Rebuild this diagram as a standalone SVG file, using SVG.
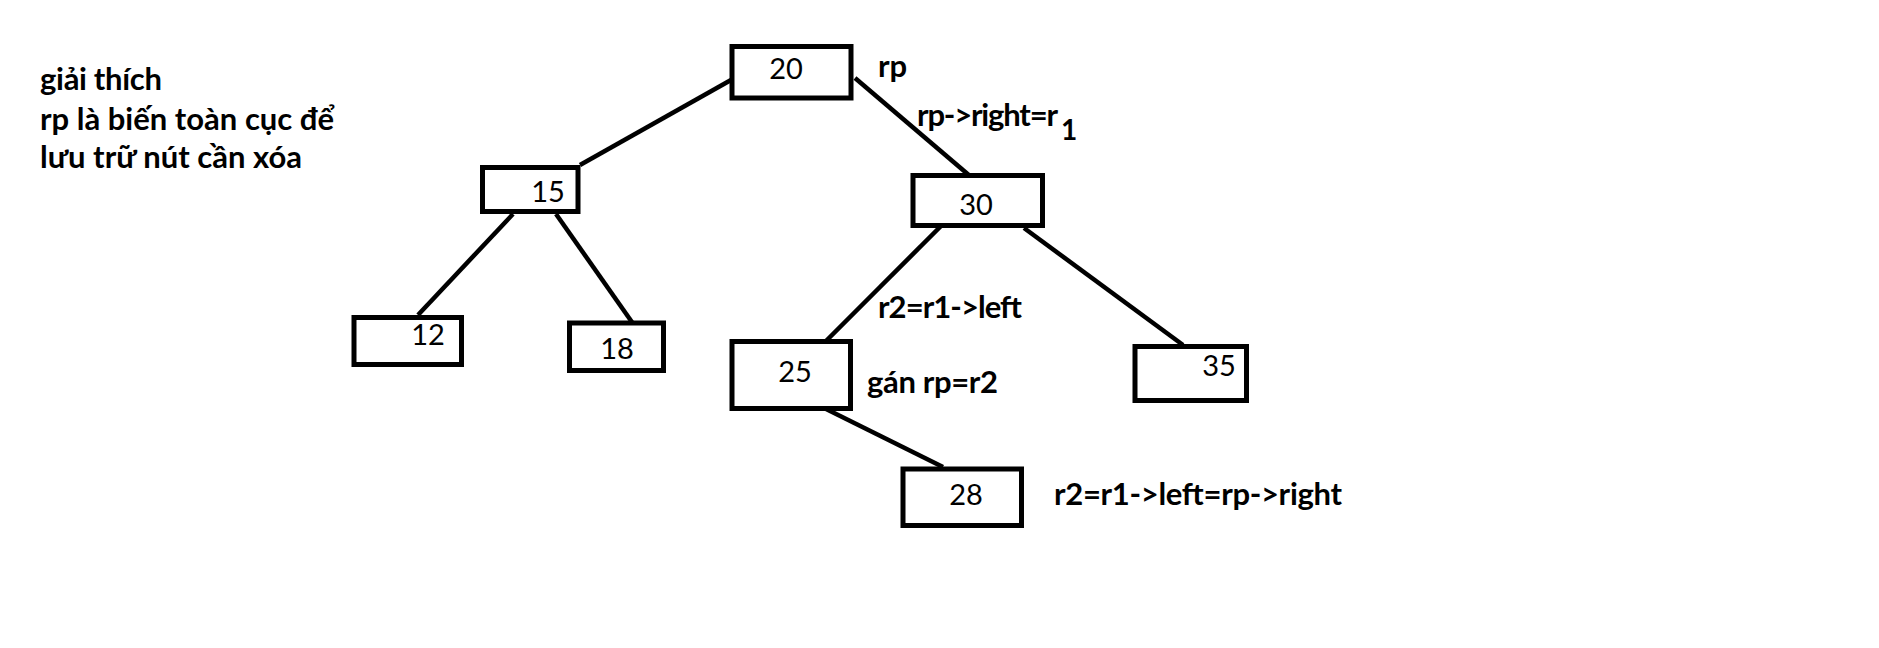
<svg xmlns="http://www.w3.org/2000/svg" width="1879" height="648" viewBox="0 0 1879 648">
<style>
.box{fill:#fff;stroke:#000;stroke-width:5}
.num{font-family:Lato,"Noto Sans",sans-serif;font-size:29px;fill:#000;text-anchor:middle}
.lbl{font-family:Lato,"Noto Sans",sans-serif;font-size:31px;font-weight:bold;fill:#000}
.edge{stroke:#000;stroke-width:4.5;fill:none}
</style>
<rect width="1879" height="648" fill="#fff"/>
<g id="connectors">
<line class="edge" x1="580" y1="165" x2="731" y2="80"/>
<line class="edge" x1="855" y1="78" x2="977" y2="182"/>
<line class="edge" x1="513" y1="214" x2="418" y2="315"/>
<line class="edge" x1="556" y1="214" x2="634" y2="325"/>
<line class="edge" x1="943" y1="224" x2="822" y2="345"/>
<line class="edge" x1="1024" y1="228" x2="1183" y2="345"/>
<line class="edge" x1="820" y1="406" x2="943" y2="467"/>
</g>
<g id="node20"><rect class="box" x="732" y="46.5" width="119" height="51.5"/><text class="num" x="786" y="79">20</text></g>
<g id="node15"><rect class="box" x="482.5" y="167.5" width="95.5" height="44"/><text class="num" x="548" y="202">15</text></g>
<g id="node12"><rect class="box" x="354" y="317.5" width="107.5" height="47"/><text class="num" x="428" y="345">12</text></g>
<g id="node18"><rect class="box" x="569.5" y="323" width="94" height="47.5"/><text class="num" x="617" y="359">18</text></g>
<g id="node30"><rect class="box" x="913" y="175.5" width="129.5" height="50"/><text class="num" x="976" y="215">30</text></g>
<g id="node25"><rect class="box" x="732" y="341.5" width="118.5" height="67"/><text class="num" x="795" y="382">25</text></g>
<g id="node35"><rect class="box" x="1135" y="346.5" width="111.5" height="54"/><text class="num" x="1219" y="376">35</text></g>
<g id="node28"><rect class="box" x="903" y="469" width="118.5" height="56.5"/><text class="num" x="966" y="505">28</text></g>
<g id="labels">
<text class="lbl" x="40" y="90" textLength="122">giải thích</text>
<text class="lbl" x="40" y="130" textLength="294">rp là biến toàn cục để</text>
<text class="lbl" x="40" y="168" textLength="262">lưu trữ nút cần xóa</text>
<text class="lbl" x="878" y="77">rp</text>
<text class="lbl" x="917" y="126" textLength="141">rp-&gt;right=r</text>
<text class="lbl" x="1061" y="140" style="font-size:28px">1</text>
<text class="lbl" x="878" y="318" textLength="144">r2=r1-&gt;left</text>
<text class="lbl" x="867" y="393" textLength="131">gán rp=r2</text>
<text class="lbl" x="1054" y="505" textLength="288">r2=r1-&gt;left=rp-&gt;right</text>
</g>
</svg>
